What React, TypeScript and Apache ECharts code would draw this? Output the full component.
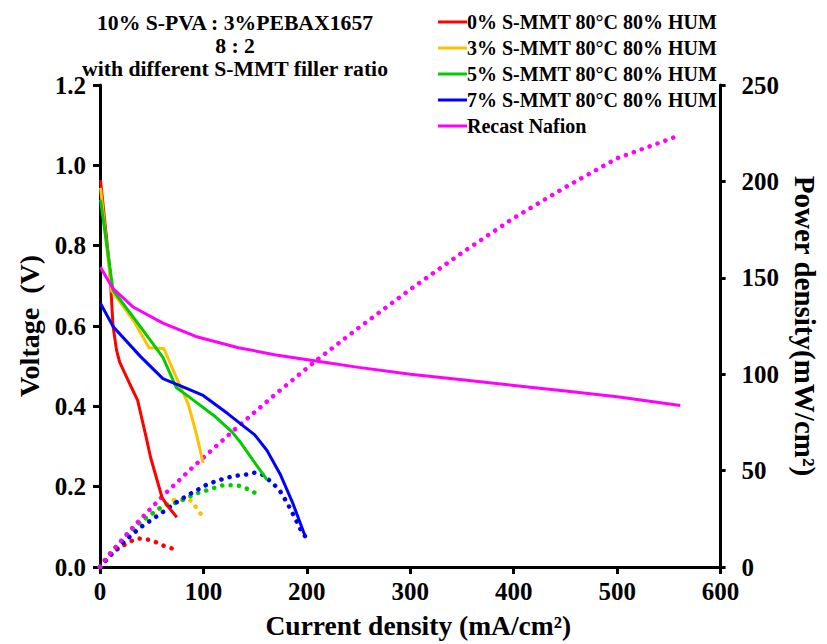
import React, { useEffect, useRef } from "react";
import * as echarts from "echarts";

const FONT = '"Liberation Serif", "Times New Roman", serif';

const titleLines = ["10% S-PVA : 3%PEBAX1657", "8 : 2", "with different S-MMT filler ratio"];
const seriesNames = [
  "0% S-MMT 80°C 80% HUM",
  "3% S-MMT 80°C 80% HUM",
  "5% S-MMT 80°C 80% HUM",
  "7% S-MMT 80°C 80% HUM",
  "Recast Nafion",
];
const seriesColors = ["#FF0000", "#FFC000", "#00CC00", "#0000FF", "#FF00FF"];

// Voltage curves (current density mA/cm², voltage V)
const redI = [0.5, 9.5, 12.6, 16, 19, 28, 36.4, 44, 49, 60, 65, 74.3];
const redV = [0.963, 0.74, 0.6, 0.54, 0.51, 0.46, 0.415, 0.33, 0.272, 0.173, 0.153, 0.124];
const yelI = [0.5, 11, 22, 33, 47.4, 61.7, 72.8, 85.4, 93.3, 99.7];
const yelV = [0.944, 0.689, 0.65, 0.611, 0.546, 0.544, 0.478, 0.405, 0.33, 0.259];
const grnI = [0.5, 12.6, 38.8, 61, 73.7, 86.4, 111.6, 127.4, 136.5, 148.7, 161.5];
const grnV = [0.914, 0.689, 0.599, 0.521, 0.447, 0.423, 0.374, 0.337, 0.308, 0.263, 0.217];
const bluI = [0.5, 12.6, 38.8, 60.8, 85.4, 99.7, 123.4, 149.6, 161.5, 174.2, 186.7, 198.7];
const bluV = [0.656, 0.599, 0.525, 0.469, 0.443, 0.427, 0.382, 0.329, 0.29, 0.231, 0.157, 0.074];
const nafI = [0.5, 12.6, 31.6, 60.8, 92.6, 133.8, 170, 208.8, 250, 300, 350, 400, 450, 500, 561];
const nafV = [0.746, 0.693, 0.648, 0.607, 0.574, 0.546, 0.528, 0.513, 0.497, 0.48, 0.466, 0.452, 0.438, 0.424, 0.402];

// Power density curves (current density mA/cm², power mW/cm²)
const redPI = [0, 5, 10, 15, 22, 28.5, 36.4, 43.7, 51.3, 57.9, 65.5, 72.8];
const redP = [0, 3.8, 7.2, 8.6, 10.9, 13.1, 14.8, 14.5, 13.6, 11.8, 10.2, 9.2];
const yelPI = [0, 11, 20, 30, 41, 47.4, 54, 60.4, 66.7, 73.7, 81.6, 88.5, 92.7, 97.4];
const yelP = [0, 7.6, 13.2, 18.7, 24.2, 26.3, 29, 31.3, 33.6, 35.3, 34.8, 34.4, 31, 27.6];
const grnPI = [0, 12.6, 25, 38.8, 50, 61, 75.9, 89.5, 96.4, 104, 111.7, 119, 126.8, 134.7, 141.7, 148.9, 155.9];
const grnP = [0, 8.7, 16, 23.2, 27.5, 31.8, 33.6, 37.3, 38.7, 39.9, 41.3, 42.4, 42.4, 42.1, 40.7, 38.7, 37];
const bluPI = [0, 12.6, 25, 38.8, 50, 60.8, 75, 89.5, 97.4, 103.8, 111.1, 118, 125.9, 133.8, 141.7, 148.9, 156.6, 161.5, 167.9, 173.4, 181, 187.7, 194, 199];
const bluP = [0, 7.5, 14, 20.4, 24.5, 28.5, 34, 38.7, 40.9, 42.9, 44.3, 45.5, 46.7, 47.5, 48, 48.9, 48, 46, 42.9, 40, 33.2, 26.2, 19.4, 15.3];
const nafPI = [0, 12.6, 31.6, 60.8, 92.6, 133.8, 170, 208.8, 250, 300, 350, 400, 450, 500, 561];
const nafP = [0, 8.7, 20.5, 36.9, 53.2, 73, 89.8, 107, 124, 144, 163, 181, 197, 212, 224];

const pairs = (xs: number[], ys: number[]) => xs.map((x, i) => [x, ys[i]]);

const voltageData = [pairs(redI, redV), pairs(yelI, yelV), pairs(grnI, grnV), pairs(bluI, bluV), pairs(nafI, nafV)];
const powerData = [pairs(redPI, redP), pairs(yelPI, yelP), pairs(grnPI, grnP), pairs(bluPI, bluP), pairs(nafPI, nafP)];

const txt = { fontFamily: FONT, fontWeight: "bold" as const, color: "#000" };

export default function App() {
  const ref = useRef<HTMLDivElement>(null);
  useEffect(() => {
    if (!ref.current) return;
    const chart = echarts.init(ref.current, null, { renderer: "svg" });
    const axisLine = { show: true, lineStyle: { color: "#000", width: 3 } };
    const axisTick = { show: true, inside: false, length: 7, lineStyle: { color: "#000", width: 3 } };
    const series: any[] = [];
    voltageData.forEach((d, i) => {
      series.push({
        name: seriesNames[i],
        type: "line",
        yAxisIndex: 0,
        data: d,
        symbol: "none",
        lineStyle: { color: seriesColors[i], width: 3 },
        itemStyle: { color: seriesColors[i] },
        z: 3,
      });
    });
    powerData.forEach((d, i) => {
      series.push({
        name: seriesNames[i] + " power",
        type: "line",
        yAxisIndex: 1,
        data: d,
        symbol: "none",
        lineStyle: { color: seriesColors[i], width: 4.5, type: [0.1, 8.3], cap: "round" },
        itemStyle: { color: seriesColors[i] },
        z: 2,
      });
    });
    chart.setOption({
      animation: false,
      backgroundColor: "#fff",
      grid: { left: 100, right: 95, top: 85, bottom: 70 },
      graphic: titleLines.map((t, i) => ({
        type: "text",
        x: 235,
        y: [23, 46, 69][i],
        style: {
          text: t,
          fontFamily: FONT,
          fontWeight: "bold",
          fontSize: 21.7,
          fill: "#000",
          align: "center",
          verticalAlign: "middle",
          textAlign: "center",
          textVerticalAlign: "middle",
        },
      })),
      legend: {
        data: seriesNames,
        orient: "vertical",
        left: 433,
        top: 7,
        icon: "rect",
        itemWidth: 29,
        itemHeight: 3,
        itemGap: 6,
        textStyle: { ...txt, fontSize: 20, lineHeight: 20, padding: [0, 0, 0, -5] },
      },
      xAxis: {
        type: "value",
        min: 0,
        max: 600,
        interval: 100,
        name: "Current density (mA/cm²)",
        nameLocation: "middle",
        nameGap: 44,
        nameTextStyle: { ...txt, fontSize: 27.5, padding: [0, 0, 0, 16] },
        axisLine,
        axisTick,
        axisLabel: { ...txt, fontSize: 25, margin: 12 },
        splitLine: { show: false },
      },
      yAxis: [
        {
          type: "value",
          min: 0,
          max: 1.2,
          interval: 0.2,
          name: "Voltage  (V)",
          nameLocation: "middle",
          nameGap: 56,
          nameTextStyle: { ...txt, fontSize: 28 },
          axisLine,
          axisTick,
          axisLabel: { ...txt, fontSize: 25, margin: 14, formatter: (v: number) => v.toFixed(1) },
          splitLine: { show: false },
        },
        {
          type: "value",
          position: "right",
          min: 0,
          max: 250,
          interval: 50,
          name: "Power density(mW/cm²)",
          nameLocation: "middle",
          nameRotate: -90,
          nameGap: 63,
          nameTextStyle: { ...txt, fontSize: 29 },
          axisLine,
          axisTick: { ...axisTick, length: 5 },
          axisLabel: { ...txt, fontSize: 25, margin: 21 },
          splitLine: { show: false },
        },
      ],
      series,
    });
    return () => chart.dispose();
  }, []);
  return <div ref={ref} style={{ width: 827, height: 644, position: "absolute", left: 0, top: 0 }} />;
}
